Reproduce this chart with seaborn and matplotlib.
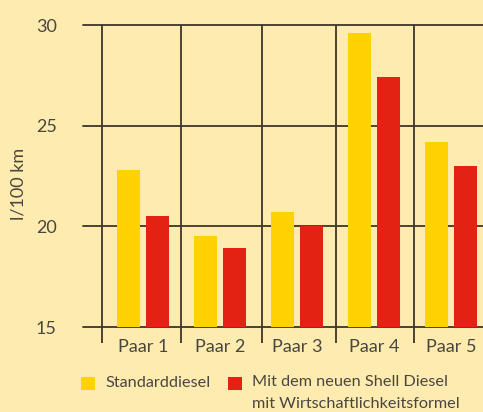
import matplotlib
matplotlib.use("Agg")
import matplotlib.pyplot as plt
from matplotlib.patches import Rectangle
import seaborn as sns
import pandas as pd

categories = ["Paar 1", "Paar 2", "Paar 3", "Paar 4", "Paar 5"]
series_names = ["Standarddiesel", "Mit dem neuen Shell Diesel\nmit Wirtschaftlichkeitsformel"]
standard = [22.8, 19.5, 20.7, 29.6, 24.2]
shell = [20.5, 18.9, 20.0, 27.4, 23.0]
yticks = [15, 20, 25, 30]
ylabel = "l/100 km"

BG = "#feebb0"
YEL = "#ffd200"
RED = "#e32213"
LINE = "#3d3526"
TXT = "#4a4640"

sns.set_theme(style="white")
plt.rcParams["font.family"] = ["Lato", "DejaVu Sans"]
FW = "normal"

df = pd.DataFrame({
    "Paar": categories * 2,
    "Serie": [series_names[0]] * len(categories) + [series_names[1]] * len(categories),
    "Wert": standard + shell,
})

fig = plt.figure(figsize=(4.83, 4.12), dpi=100, facecolor=BG)
ax = fig.add_axes([83 / 483, 1 - 327 / 412, 1 - 83 / 483, (327 - 25) / 412])
ax.set_facecolor(BG)

sns.barplot(data=df, x="Paar", y="Wert", hue="Serie", palette=[YEL, RED],
            saturation=1, width=0.753, gap=0.207, ax=ax, legend=False, zorder=3,
            linewidth=0, edgecolor="none")

ax.set_ylim(15, 30)
ax.set_xlim(-0.777, 4.41)

for y in yticks:
    ax.axhline(y, color=LINE, lw=1.3, zorder=2, clip_on=False)

vpos = [-0.53, 0.49, 1.55, 2.51, 3.52]
for xv in vpos:
    ax.plot([xv, xv], [14.2, 30], color=LINE, lw=1.3, zorder=2, clip_on=False,
            solid_capstyle="butt")

for s in ax.spines.values():
    s.set_visible(False)

ax.set_yticks(yticks)
ax.set_yticklabels([str(v) for v in yticks], fontsize=13, color=TXT, fontweight=FW)
ax.tick_params(axis="y", length=0, pad=19)
ax.tick_params(axis="x", length=0, pad=9)
ax.set_xticks(range(len(categories)))
ax.set_xticklabels(categories, fontsize=13, color=TXT, fontweight=FW)
ax.set_xlabel("")
ax.set_ylabel("")
fig.text(18 / 483, 1 - 184 / 412, ylabel, rotation=90, ha="center", va="center",
         fontsize=13, color=TXT, fontweight=FW)

# legend
fig.add_artist(Rectangle((81 / 483, 1 - 390 / 412), 14 / 483, 13 / 412,
                         transform=fig.transFigure, facecolor=YEL, edgecolor="none"))
fig.text(106 / 483, 1 - 383 / 412, series_names[0], ha="left", va="center",
         fontsize=11.7, color=TXT, fontweight=FW)
fig.add_artist(Rectangle((228 / 483, 1 - 390 / 412), 14 / 483, 13 / 412,
                         transform=fig.transFigure, facecolor=RED, edgecolor="none"))
fig.text(252 / 483, 1 - 375 / 412, series_names[1], ha="left", va="top",
         fontsize=11.7, color=TXT, fontweight=FW, linespacing=1.75)

fig.savefig("out.png", dpi=100, facecolor=BG)
